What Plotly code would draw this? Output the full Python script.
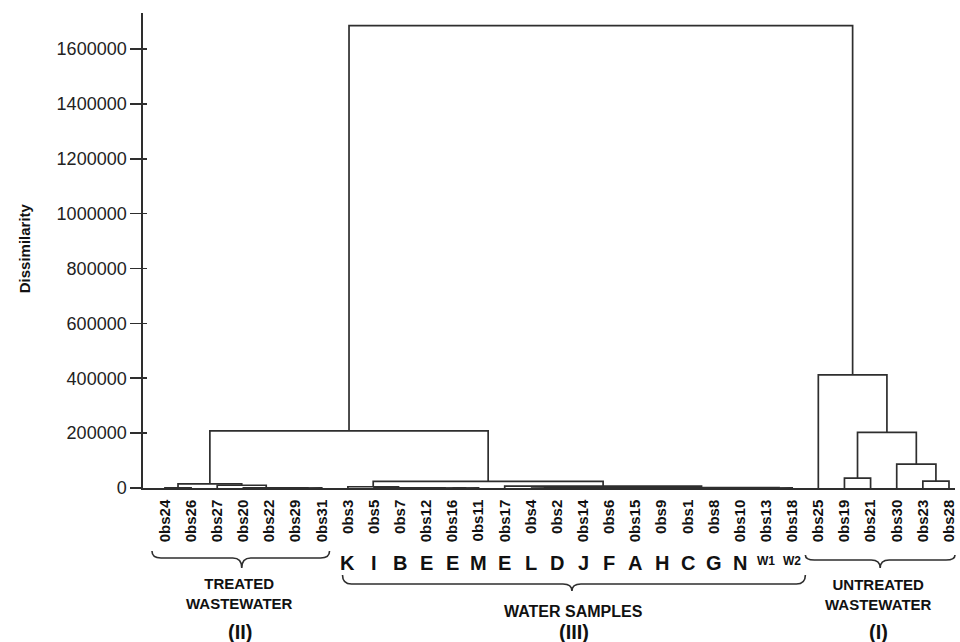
import plotly.graph_objects as go

# ---------------- data ----------------
leaf_labels = ["0bs24", "0bs26", "0bs27", "0bs20", "0bs22", "0bs29", "0bs31",
               "0bs3", "0bs5", "0bs7", "0bs12", "0bs16", "0bs11", "0bs17", "0bs4",
               "0bs2", "0bs14", "0bs6", "0bs15", "0bs9", "0bs1", "0bs8", "0bs10",
               "0bs13", "0bs18",
               "0bs25", "0bs19", "0bs21", "0bs30", "0bs23", "0bs28"]

# sample letters under the water-sample leaves (0bs3 ... 0bs18)
water_letters = ["K", "I", "B", "E", "E", "M", "E", "L", "D", "J", "F", "A",
                 "H", "C", "G", "N", "W1", "W2"]

# agglomeration steps: node m<k> = join(merge_a[k], merge_b[k]) at merge_height[k]
merge_a = ["0bs24", "0bs29", "0bs22", "0bs20", "0bs27", "m0",
           "0bs16", "0bs12", "0bs7", "0bs5", "0bs3",
           "0bs4", "0bs14", "m11", "0bs15", "0bs8", "0bs1", "m14", "m13",
           "0bs13", "m18", "0bs17", "m10", "m5",
           "0bs23", "0bs30", "0bs19", "m26", "0bs25", "m23"]
merge_b = ["0bs26", "0bs31", "m1", "m2", "m3", "m4",
           "0bs11", "m6", "m7", "m8", "m9",
           "0bs2", "0bs6", "m12", "0bs9", "0bs10", "m15", "m16", "m17",
           "0bs18", "m19", "m20", "m21", "m22",
           "0bs28", "m24", "0bs21", "m25", "m27", "m28"]
merge_height = [800, 400, 700, 1000, 10000, 15000,
                300, 500, 700, 900, 4500,
                300, 300, 600, 300, 300, 600, 900, 1200,
                500, 1800, 7000, 24000, 208000,
                25000, 87000, 36000, 203000, 412000, 1685000]

y_ticks = [0, 200000, 400000, 600000, 800000, 1000000, 1200000, 1400000, 1600000]

group_names = ["TREATED<br>WASTEWATER", "WATER SAMPLES", "UNTREATED<br>WASTEWATER"]
group_numbers = ["(II)", "(III)", "(I)"]

# ---------------- build dendrogram segments ----------------
pos = {lab: (float(i), 0.0) for i, lab in enumerate(leaf_labels)}
xs, ys = [], []
for k, (a, b, h) in enumerate(zip(merge_a, merge_b, merge_height)):
    xa, ha = pos[a]
    xb, hb = pos[b]
    xs += [xa, xa, xb, xb, None]
    ys += [ha, h, h, hb, None]
    pos["m%d" % k] = ((xa + xb) / 2.0, float(h))

FONT = "Liberation Sans, Arial, Helvetica, sans-serif"
LINE = "#2e2e2e"

X_RANGE = [-0.84, 30.23]
Y_RANGE = [0, 1731000]

fig = go.Figure()
fig.add_trace(go.Scatter(x=xs, y=ys, mode="lines",
                         line=dict(color=LINE, width=1.7),
                         hoverinfo="skip", showlegend=False))
# dummy trace so the overlay axis (inner half of tick marks) is drawn
fig.add_trace(go.Scatter(x=[None], y=[None], yaxis="y2", showlegend=False,
                         hoverinfo="skip"))

# ---------------- helpers for pixel-based decoration ----------------
L, R, T, B = 143, 3, 13, 154
W, H = 960, 642
PW, PH = W - L - R, H - T - B


def pxx(p):
    return (p - L) / PW


def pxy(p):
    return (H - B - p) / PH


def brace(x0, x1, xc, ytop, ymid, ytip, r=9):
    pts = []
    pts.append("M %f,%f" % (pxx(x0), pxy(ytop)))
    pts.append("Q %f,%f %f,%f" % (pxx(x0), pxy(ymid), pxx(x0 + r), pxy(ymid)))
    pts.append("L %f,%f" % (pxx(xc - r), pxy(ymid)))
    pts.append("Q %f,%f %f,%f" % (pxx(xc), pxy(ymid), pxx(xc), pxy(ytip)))
    pts.append("Q %f,%f %f,%f" % (pxx(xc), pxy(ymid), pxx(xc + r), pxy(ymid)))
    pts.append("L %f,%f" % (pxx(x1 - r), pxy(ymid)))
    pts.append("Q %f,%f %f,%f" % (pxx(x1), pxy(ymid), pxx(x1), pxy(ytop)))
    return dict(type="path", path=" ".join(pts), xref="paper", yref="paper",
                line=dict(color=LINE, width=1.6))


shapes = [
    brace(152, 330, 242, 551, 558, 568),
    brace(343, 807, 573, 575, 584, 591),
    brace(807, 957, 882, 555, 560, 568),
]

annotations = []
# sample letters
for j, letter in enumerate(water_letters):
    small = len(letter) > 1
    annotations.append(dict(
        x=7 + j, xref="x", y=pxy(561 if small else 562.5), yref="paper",
        text="<b>%s</b>" % letter, showarrow=False,
        font=dict(family=FONT, size=12 if small else 20, color="#111111"),
        xanchor="center", yanchor="middle"))

# group labels
group_x = [240, 575, 880]
name_y = [593, 611, 594]
name_size = [15, 16, 15]
for gx, gy, gs, name, num in zip(group_x, name_y, name_size, group_names, group_numbers):
    annotations.append(dict(
        x=pxx(gx), xref="paper", y=pxy(gy), yref="paper",
        text="<b>%s</b>" % name, showarrow=False,
        font=dict(family=FONT, size=gs, color="#111111"),
        xanchor="center", yanchor="middle"))
    annotations.append(dict(
        x=pxx(gx), xref="paper", y=pxy(632), yref="paper",
        text="<b>%s</b>" % num, showarrow=False,
        font=dict(family=FONT, size=20, color="#111111"),
        xanchor="center", yanchor="middle"))

# y-axis title
annotations.append(dict(
    x=pxx(24), xref="paper", y=pxy(248), yref="paper",
    text="<b>Dissimilarity</b>", textangle=-90, showarrow=False,
    font=dict(family=FONT, size=15, color="#111111"),
    xanchor="center", yanchor="middle"))

fig.update_layout(
    width=W, height=H,
    margin=dict(l=L, r=R, t=T, b=B, pad=0),
    paper_bgcolor="white", plot_bgcolor="white",
    showlegend=False,
    xaxis=dict(range=X_RANGE, showgrid=False, zeroline=False,
               showline=True, linecolor=LINE, linewidth=1.7,
               tickmode="array", tickvals=list(range(len(leaf_labels))),
               ticktext=leaf_labels, tickangle=-90,
               ticks="outside", ticklen=4, tickcolor="rgba(0,0,0,0)",
               tickfont=dict(family=FONT, size=15, color="#111111", weight="bold")),
    yaxis=dict(range=Y_RANGE, showgrid=False, zeroline=False,
               showline=True, linecolor=LINE, linewidth=1.7,
               tickmode="array", tickvals=y_ticks,
               ticktext=[str(v) for v in y_ticks],
               ticks="outside", ticklen=11, tickwidth=1.7, tickcolor=LINE,
               tickfont=dict(family=FONT, size=18, color="#222222")),
    yaxis2=dict(range=Y_RANGE, overlaying="y", anchor="x", side="left",
                showgrid=False, zeroline=False, showline=False,
                tickmode="array", tickvals=y_ticks, showticklabels=False,
                ticks="inside", ticklen=4, tickwidth=1.7, tickcolor=LINE),
    shapes=shapes,
    annotations=annotations,
)

fig.write_html("out.html",
               config={"displayModeBar": False, "staticPlot": True},
               post_script="document.body.style.margin='0px';"
                           "document.body.style.padding='0px';"
                           "document.body.style.overflow='hidden';")
